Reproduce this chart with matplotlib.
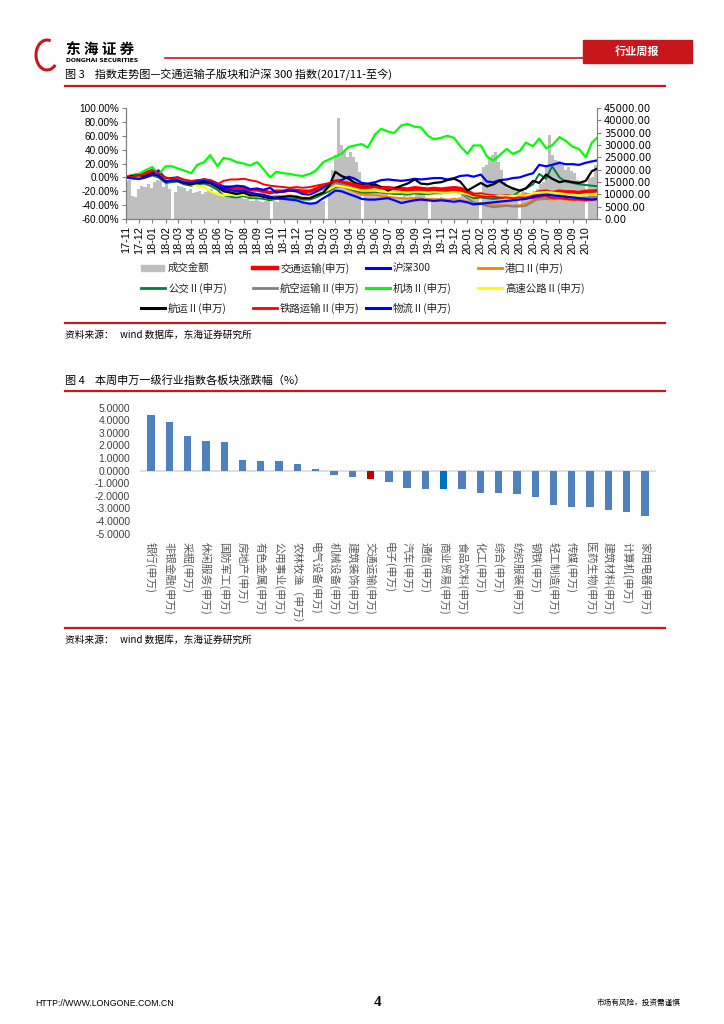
import numpy as np
import pandas as pd
import matplotlib
matplotlib.use("Agg")
import matplotlib.pyplot as plt
import matplotlib.dates as mdates
from matplotlib.lines import Line2D
from matplotlib.patches import Rectangle, Arc

plt.rcParams['font.family'] = ['Noto Sans CJK SC', 'DejaVu Sans']
plt.rcParams['axes.unicode_minus'] = False

# ---------------- figure 3 data (half-monthly samples, % change since 2017-11) ----------------
airport = [0, 3, 5, 10,
           15, 4, 16, 16, 13, 10, 6, 18, 22, 32, 16, 28, 26, 22, 20, 17, 22, 12, 0, 8, 6, 5, 3, 2,
           5, 10, 22, 26, 30, 34, 44, 46, 48, 43, 62, 70, 66, 64, 75, 77, 73, 72, 60, 55, 57, 60, 57, 45,
           34, 46, 46, 30, 24, 32, 41, 34, 38, 50, 45, 56, 42, 46, 58, 53, 44, 41, 29, 50, 60]
transport = [0, 2, 4, 6,
             10, 5, -5, -3, -2, -6, -8, -6, -4, -5, -10, -14, -14, -16, -15, -18, -18, -20, -22, -20, -20, -18, -19, -20,
             -20, -17, -12, -10, -6, -8, -9, -12, -15, -14, -13, -15, -15, -16, -16, -17, -15, -16, -17, -16, -17, -16, -15, -16,
             -20, -25, -24, -26, -27, -28, -27, -28, -27, -26, -25, -21, -20, -22, -20, -21, -21, -22, -20, -20, -19]
hs300 = [0, 1, -1, 0,
         5, 10, -2, -1, 0, -5, -6, -5, -3, -5, -9, -14, -14, -12, -13, -17, -16, -18, -15, -22, -20, -19, -20, -24,
         -25, -21, -15, -9, -5, -4, 1, -2, -8, -9, -7, -4, -3, -4, -5, -4, -2, -3, -2, -1, -1, -3, -1, 2,
         3, 1, 4, -6, -7, -4, -3, -1, 0, 3, 6, 18, 16, 18, 21, 19, 19, 18, 21, 23, 25]
port = [0, -2, -3, -1,
        3, 0, -6, -5, -5, -8, -10, -8, -8, -10, -15, -20, -21, -23, -22, -25, -25, -27, -28, -27, -27, -26, -27, -29,
        -29, -26, -20, -16, -12, -13, -17, -21, -25, -25, -25, -27, -28, -29, -30, -31, -30, -30, -31, -31, -32, -32, -31, -32,
        -35, -38, -37, -38, -40, -40, -40, -41, -40, -38, -33, -32, -31, -32, -31, -32, -33, -33, -34, -33, -32]
bus = [0, -1, -2, 0,
       3, 0, -8, -7, -6, -10, -12, -10, -9, -12, -18, -26, -28, -29, -27, -30, -30, -31, -33, -31, -30, -29, -30, -32,
       -32, -29, -24, -20, -14, -13, -16, -19, -22, -22, -21, -22, -23, -24, -24, -25, -23, -24, -24, -23, -23, -22, -21, -22,
       -26, -30, -29, -30, -31, -30, -28, -27, -20, -16, -10, 5, -2, 16, 0, -6, -8, -10, -11, -12, -13]
aviation = [0, 1, 0, 2,
            6, 3, -4, -3, -2, -5, -7, -5, -4, -6, -12, -18, -20, -22, -20, -24, -25, -27, -29, -28, -28, -27, -28, -30,
            -30, -26, -18, -14, -8, -10, -13, -17, -20, -20, -19, -21, -22, -23, -22, -23, -21, -22, -23, -22, -22, -21, -20, -22,
            -30, -36, -38, -41, -43, -42, -41, -42, -42, -41, -35, -30, -31, -29, -26, -27, -29, -30, -29, -28, -29]
highway = [0, 1, 1, 2,
           5, 2, -5, -4, -4, -7, -10, -12, -14, -20, -24, -26, -25, -26, -25, -27, -27, -28, -30, -29, -28, -27, -28, -29,
           -28, -25, -20, -17, -12, -13, -15, -17, -19, -19, -19, -20, -21, -21, -21, -22, -21, -21, -22, -21, -22, -22, -21, -22,
           -24, -27, -26, -27, -28, -27, -27, -27, -26, -26, -23, -22, -21, -22, -23, -24, -25, -26, -25, -24, -24]
shipping = [0, 2, 3, 2,
            6, 2, -6, -4, -5, -8, -10, -8, -7, -8, -14, -20, -22, -24, -22, -26, -26, -28, -30, -29, -28, -27, -28, -30,
            -30, -26, -22, -12, 8, 2, -2, -8, -11, -12, -10, -14, -19, -16, -12, -9, -3, -9, -10, -8, -7, -4, -2, -6,
            -19, -14, -8, -13, -10, -5, -12, -16, -19, -16, -5, -8, 4, -2, -7, -5, -7, -8, -5, 9, 14]
railway = [0, 1, 3, 5,
           10, 6, 0, -2, 0, -3, -5, -4, -3, -5, -10, -5, -3, -3, -2, -4, -6, -10, -12, -13, -14, -15, -14, -15,
           -14, -12, -10, -8, -5, -6, -8, -10, -12, -12, -14, -15, -16, -17, -18, -19, -18, -18, -19, -18, -19, -19, -18, -19,
           -22, -26, -27, -28, -28, -29, -29, -30, -29, -30, -30, -28, -27, -30, -30, -31, -32, -32, -33, -32, -31]
logistics = [0, -1, -2, 0,
             4, 3, -6, -5, -4, -7, -8, -6, -5, -7, -12, -17, -18, -20, -19, -22, -24, -25, -28, -30, -31, -32, -33, -36,
             -38, -37, -30, -25, -19, -20, -24, -27, -31, -32, -32, -31, -30, -33, -37, -35, -33, -32, -33, -34, -33, -34, -35, -34,
             -36, -39, -38, -37, -36, -35, -34, -33, -32, -31, -28, -26, -25, -26, -27, -28, -29, -30, -31, -32, -31]

# weekly turnover (right axis), from 2017-11-03 every Friday; 0 = holiday week
volume = [15500, 16000, 9500, 9000,
          12000, 13500, 13000, 14000, 12500,
          15000, 16000, 15500, 13000,
          14500, 12000, 0, 11000,
          13500, 13000, 12500, 11500, 12000,
          10500, 11000, 11500, 10000,
          11000, 11500, 12000, 10500,
          10000, 9500, 9000, 9500, 8500,
          8500, 9000, 9000, 8500,
          8000, 8000, 7500, 7500, 8000,
          7500, 7000, 7500, 8000,
          0, 7500, 7000, 8000,
          8500, 9000, 8500, 7500, 7500,
          7000, 7000, 6500, 6500,
          6500, 7000, 7500, 7000,
          7500, 0, 12000, 20000,
          26000, 41000, 30000, 28000, 25000,
          27000, 25000, 23000, 19000,
          0, 14000, 13500, 12500, 11500,
          10500, 10000, 11500, 10500,
          9500, 9000, 8500, 9000,
          9000, 9500, 9000, 9500, 9000,
          10500, 10500, 10000, 8500,
          0, 8500, 8000, 8500,
          9000, 8500, 8000, 7500, 7500,
          8000, 9000, 10500, 10000,
          12000, 11500, 11000, 9000, 0,
          21000, 22000, 25000, 26000,
          27000, 23000, 20000, 15000,
          12500, 12000, 13000, 11500,
          0, 11500, 11000, 10500, 10000,
          11500, 12000, 14000, 15000,
          22000, 34000, 26000, 24000, 23500,
          22000, 20000, 21000, 19500,
          18500, 16000, 15000, 14500,
          0, 16500, 17000, 22000, 26000]

series_names = ['交通运输(申万)', '沪深300', '港口Ⅱ(申万)', '公交Ⅱ(申万)', '航空运输Ⅱ(申万)',
                '机场Ⅱ(申万)', '高速公路Ⅱ(申万)', '航运Ⅱ(申万)', '铁路运输Ⅱ(申万)', '物流Ⅱ(申万)']
series_values = [transport, hs300, port, bus, aviation, airport, highway, shipping, railway, logistics]
series_colors = ['#FF0000', '#0000FF', '#FF8000', '#008040', '#808080',
                 '#00FF00', '#FFFF00', '#000000', '#FF0000', '#0000FF']
series_widths = [2.6, 1.6, 1.4, 1.4, 1.4, 1.6, 1.6, 1.6, 1.4, 1.6]

# ---------------- figure 4 data ----------------
industries = ['银行(申万)', '非银金融(申万)', '采掘(申万)', '休闲服务(申万)', '国防军工(申万)',
              '房地产(申万)', '有色金属(申万)', '公用事业(申万)', '农林牧渔（申万）', '电气设备(申万)',
              '机械设备(申万)', '建筑装饰(申万)', '交通运输(申万)', '电子(申万)', '汽车(申万)',
              '通信(申万)', '商业贸易(申万)', '食品饮料(申万)', '化工(申万)', '综合(申万)',
              '纺织服装(申万)', '钢铁(申万)', '轻工制造(申万)', '传媒(申万)', '医药生物(申万)',
              '建筑材料(申万)', '计算机(申万)', '家用电器(申万)']
weekly_change = [4.42, 3.90, 2.78, 2.38, 2.25, 0.87, 0.75, 0.75, 0.53, 0.10,
                 -0.35, -0.47, -0.63, -0.90, -1.35, -1.43, -1.50, -1.48, -1.77, -1.75,
                 -1.85, -2.10, -2.70, -2.93, -2.93, -3.17, -3.30, -3.62]

RED = '#C8161D'
W, H = 724, 1024


def fx(px):
    return px / W


def fy(py):
    return 1 - py / H


fig = plt.figure(figsize=(7.24, 10.24), dpi=100)

# ---------------- header ----------------
fig.add_artist(Arc((fx(47), fy(55)), 22 / W, 30 / H, theta1=70, theta2=320,
                   color=RED, lw=2.2, transform=fig.transFigure))
fig.text(fx(66), fy(49), '东 海 证 券', fontsize=10.5, fontweight='bold', va='center')
fig.text(fx(66), fy(61), 'DONGHAI SECURITIES', fontsize=4.3, fontweight='bold',
         va='center', family='DejaVu Sans')
fig.add_artist(Line2D([fx(165), fx(583)], [fy(58), fy(58)], color=RED, lw=1.2))
fig.add_artist(Rectangle((fx(583), fy(63)), 109 / W, 23 / H, color=RED,
                         transform=fig.transFigure))
fig.text(fx(637), fy(51.5), '行业周报', fontsize=8, color='white', fontweight='bold',
         ha='center', va='center')

fig.text(fx(65), fy(75), '图 3    指数走势图—交通运输子版块和沪深 300 指数(2017/11-至今)',
         fontsize=8, va='center')
fig.add_artist(Line2D([fx(65), fx(665)], [fy(86), fy(86)], color=RED, lw=1.6))

# ---------------- figure 3 ----------------
ax = fig.add_axes([fx(126), fy(219), 471 / W, 111 / H])
ax2 = ax.twinx()
line_dates = pd.date_range('2017-11-01', periods=len(transport), freq='SMS')
vol_dates = pd.date_range('2017-11-03', periods=len(volume), freq='W-FRI')

ax2.bar(vol_dates, volume, width=7, color='#BFBFBF', linewidth=0)
for name, vals, c, lw in zip(series_names, series_values, series_colors, series_widths):
    ax.plot(line_dates, vals, color=c, lw=lw, label=name)

ax.set_zorder(ax2.get_zorder() + 1)
ax.patch.set_visible(False)

ax.set_ylim(-60, 100)
ax.set_yticks(np.arange(-60, 101, 20))
ax.set_yticklabels([f'{v:.2f}%' for v in np.arange(-60, 101, 20)],
                   family='Liberation Sans', fontsize=7.2)
ax2.set_ylim(0, 45000)
ax2.set_yticks(np.arange(0, 45001, 5000))
ax2.set_yticklabels([f'{v:.2f}' for v in np.arange(0, 45001, 5000)],
                    family='DejaVu Sans', fontsize=7.2)
ax.set_xlim(pd.Timestamp('2017-11-01'), pd.Timestamp('2020-10-27'))
ax.xaxis.set_major_locator(mdates.MonthLocator())
ax.xaxis.set_major_formatter(mdates.DateFormatter('%y-%m'))
for lab in ax.get_xticklabels():
    lab.set_rotation(90)
    lab.set_family('Liberation Sans')
    lab.set_fontsize(7.8)

for a in (ax, ax2):
    a.spines['top'].set_visible(False)
    for s in ('left', 'right', 'bottom'):
        a.spines[s].set_color('#7F7F7F')
    a.tick_params(length=3, width=0.8, color='#7F7F7F', pad=2)
ax.spines['right'].set_visible(False)

# legend, laid out in the original's fixed grid
col_x = [141, 253, 366, 478]
row_y = [268, 288, 308]
entries = [('成交金额', '#BFBFBF', None)] + list(zip(series_names, series_colors, series_widths))
for i, (name, c, lw) in enumerate(entries):
    x0, y0 = col_x[i % 4], row_y[i // 4]
    if lw is None:
        fig.add_artist(Rectangle((fx(x0), fy(y0 + 3)), 23 / W, 6 / H, color=c,
                                 transform=fig.transFigure))
    else:
        fig.add_artist(Line2D([fx(x0), fx(x0 + 24)], [fy(y0), fy(y0)], color=c,
                              lw=min(lw + 0.6, 3.2)))
    fig.text(fx(x0 + 27), fy(y0), name, fontsize=7.5, va='center', color='#222222')

fig.add_artist(Line2D([fx(65), fx(665)], [fy(323), fy(323)], color=RED, lw=1.6))
fig.text(fx(65), fy(335), '资料来源：   wind 数据库，东海证券研究所', fontsize=7, va='center')

# ---------------- figure 4 ----------------
fig.text(fx(65), fy(380), '图 4    本周申万一级行业指数各板块涨跌幅（%）', fontsize=8, va='center')
fig.add_artist(Line2D([fx(65), fx(665)], [fy(391), fy(391)], color=RED, lw=1.6))

bx = fig.add_axes([fx(140), fy(533.5), 516 / W, 125.8 / H])
bar_colors = []
for name in industries:
    if name == '交通运输(申万)':
        bar_colors.append('#C00000')
    elif name == '商业贸易(申万)':
        bar_colors.append('#0070C0')
    else:
        bar_colors.append('#4F81BD')
pos = np.arange(len(industries))
bx.bar(pos, weekly_change, width=0.4, color=bar_colors, linewidth=0, zorder=2)
bx.axhline(0, color='#D9D9D9', lw=1.2, zorder=1)
bx.set_xlim(-0.6, len(industries) - 0.4)
bx.set_ylim(-5, 5)
bx.set_yticks(np.arange(-5, 5.1, 1))
bx.set_yticklabels([f'{v:.4f}' for v in np.arange(-5, 5.1, 1)],
                   family='Liberation Sans', fontsize=7.5, color='#404040')
bx.set_xticks(pos)
bx.set_xticklabels(industries, rotation=270, ha='center', va='top',
                   fontsize=7.8, color='#595959')
bx.tick_params(axis='x', length=0, pad=6)
bx.tick_params(axis='y', length=0, pad=7)
for s in bx.spines.values():
    s.set_visible(False)

fig.add_artist(Line2D([fx(65), fx(665)], [fy(628), fy(628)], color=RED, lw=1.6))
fig.text(fx(65), fy(640), '资料来源：   wind 数据库，东海证券研究所', fontsize=7, va='center')

# ---------------- footer ----------------
fig.text(fx(35), fy(1003), 'HTTP://WWW.LONGONE.COM.CN', fontsize=6.3, va='center',
         family='Liberation Sans')
fig.text(fx(378), fy(1003), '4', fontsize=11, va='center', ha='center',
         family='Liberation Serif', fontweight='bold')
fig.text(fx(597), fy(1003), '市场有风险，投资需谨慎', fontsize=5.5, va='center')

fig.savefig('out.png', dpi=100)
